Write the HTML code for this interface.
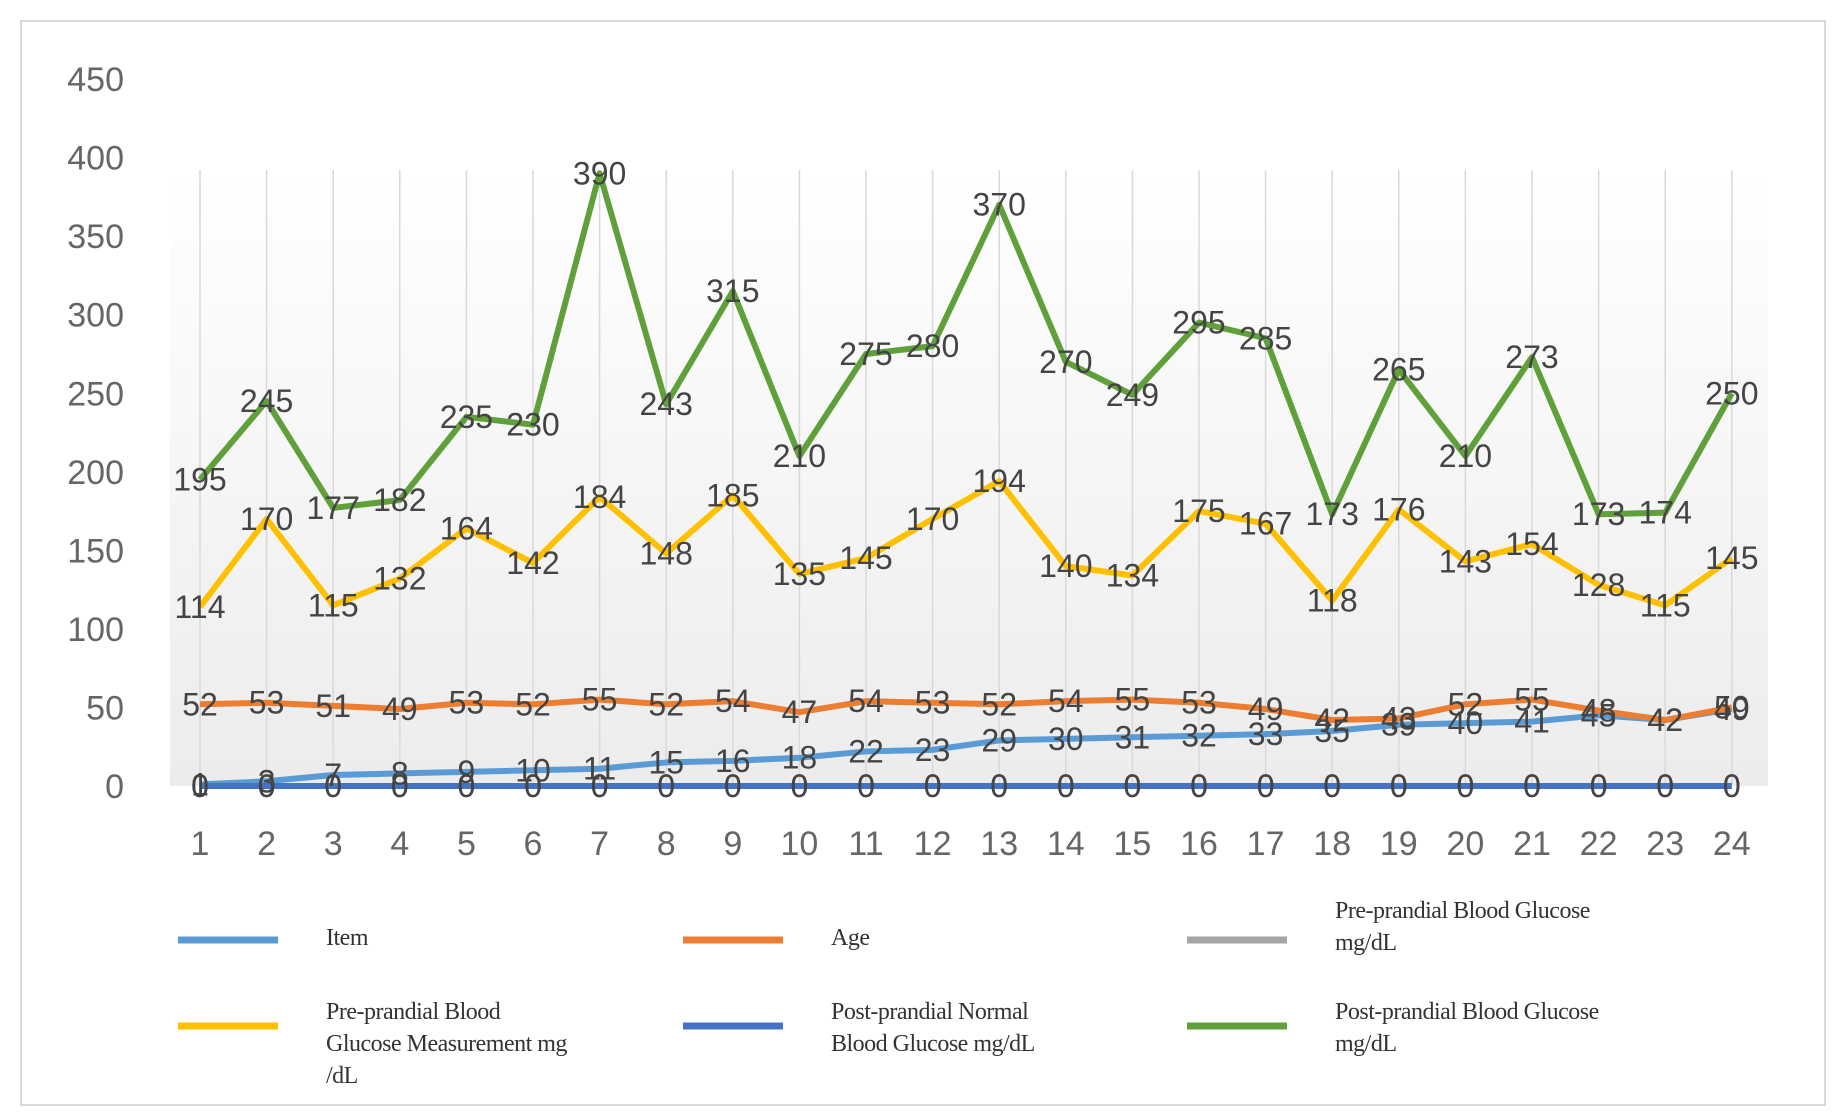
<!DOCTYPE html>
<html><head><meta charset="utf-8"><style>
html,body{margin:0;padding:0;background:#fff;}
svg{display:block;}
</style></head><body>
<svg id="chart" width="1843" height="1116" viewBox="0 0 1843 1116" xmlns="http://www.w3.org/2000/svg">
<defs><linearGradient id="bg" x1="0" y1="0" x2="0" y2="1"><stop offset="0" stop-color="#ffffff"/><stop offset="1" stop-color="#ececec"/></linearGradient></defs>
<rect x="21" y="21" width="1804" height="1084" fill="#fff" stroke="#d9d9d9" stroke-width="2"/>
<rect x="170" y="170" width="1598" height="616" fill="url(#bg)"/>
<g id="grid"></g><g id="yticks"></g><g id="xticks"></g><g id="series"></g><g id="labels"></g><g id="legend"></g>
</svg>
<script>
const categories = ["1","2","3","4","5","6","7","8","9","10","11","12","13","14","15","16","17","18","19","20","21","22","23","24"];
const yTicks = [0,50,100,150,200,250,300,350,400,450];
const itemVals = [1,3,7,8,9,10,11,15,16,18,22,23,29,30,31,32,33,35,39,40,41,45,42,49];
const ageVals = [52,53,51,49,53,52,55,52,54,47,54,53,52,54,55,53,49,42,43,52,55,48,42,50];
const preVals = [0,0,0,0,0,0,0,0,0,0,0,0,0,0,0,0,0,0,0,0,0,0,0,0];
const preMeasVals = [114,170,115,132,164,142,184,148,185,135,145,170,194,140,134,175,167,118,176,143,154,128,115,145];
const postNormVals = [0,0,0,0,0,0,0,0,0,0,0,0,0,0,0,0,0,0,0,0,0,0,0,0];
const postVals = [195,245,177,182,235,230,390,243,315,210,275,280,370,270,249,295,285,173,265,210,273,173,174,250];

const NS="http://www.w3.org/2000/svg";
const X0=200, XSTEP=66.6, Y0=786, YPER=1.571;
const xs=i=>X0+i*XSTEP, ys=v=>Y0-v*YPER;
function mk(tag,attrs,parent,text){const e=document.createElementNS(NS,tag);for(const k in attrs)e.setAttribute(k,attrs[k]);if(text!==undefined)e.textContent=text;document.getElementById(parent).appendChild(e);return e;}

categories.forEach((c,i)=>{
  const g=mk('line',{x1:xs(i),x2:xs(i),y1:170,y2:Y0,stroke:'#d9d9d9','stroke-width':1.5},'grid');
  
  
  const t=mk('text',{x:xs(i),y:855,'text-anchor':'middle','font-family':'Liberation Sans, sans-serif','font-size':34,fill:'#666'},'xticks',c);
  
  
});
yTicks.forEach(v=>{
  const t=mk('text',{x:124,y:ys(v)+12,'text-anchor':'end','font-family':'Liberation Sans, sans-serif','font-size':34,fill:'#666'},'yticks',String(v));
  
  
});

const series=[
 {name:'item',vals:itemVals,color:'#5b9bd5',lbl:'Item'},
 {name:'age',vals:ageVals,color:'#ed7d31',lbl:'Age'},
 {name:'pre-prandial',vals:preVals,color:'#a5a5a5',lbl:'Pre-prandial Blood Glucose|mg/dL'},
 {name:'pre-prandial-measurement',vals:preMeasVals,color:'#ffc000',lbl:'Pre-prandial Blood|Glucose Measurement mg|/dL'},
 {name:'post-prandial-normal',vals:postNormVals,color:'#4472c4',lbl:'Post-prandial Normal|Blood Glucose mg/dL'},
 {name:'post-prandial',vals:postVals,color:'#5fa03a',lbl:'Post-prandial Blood Glucose|mg/dL'}
];
series.forEach(s=>{
  const p=mk('polyline',{points:s.vals.map((v,i)=>xs(i)+','+ys(v)).join(' '),fill:'none',stroke:s.color,'stroke-width':6,'stroke-linejoin':'round'},'series');
  
  
});
series.forEach(s=>{
  s.vals.forEach((v,i)=>{
    const t=mk('text',{x:xs(i),y:ys(v)+11,'text-anchor':'middle','font-family':'Liberation Sans Narrow, Liberation Sans, sans-serif','font-size':32,fill:'#444'},'labels',String(v));
    
    
  });
});
const legPos=[[178,940],[683,940],[1187,940],[178,1026],[683,1026],[1187,1026]];
series.forEach((s,k)=>{
  const [lx,ly]=legPos[k];
  const l=mk('line',{x1:lx,x2:lx+100,y1:ly,y2:ly,stroke:s.color,'stroke-width':7},'legend');
  
  
  const lines=s.lbl.split('|');
  const n=lines.length;
  const startY = n===1? ly+5 : (n===2 && k===2 ? ly-22 : ly-7);
  lines.forEach((ln,j)=>{
    const t=mk('text',{x:lx+148,y:startY+j*32,'font-family':'Liberation Serif, serif','font-size':24,fill:'#333','letter-spacing':'-0.5'},'legend',ln);
    
    
  });
});
</script>
</body></html>
